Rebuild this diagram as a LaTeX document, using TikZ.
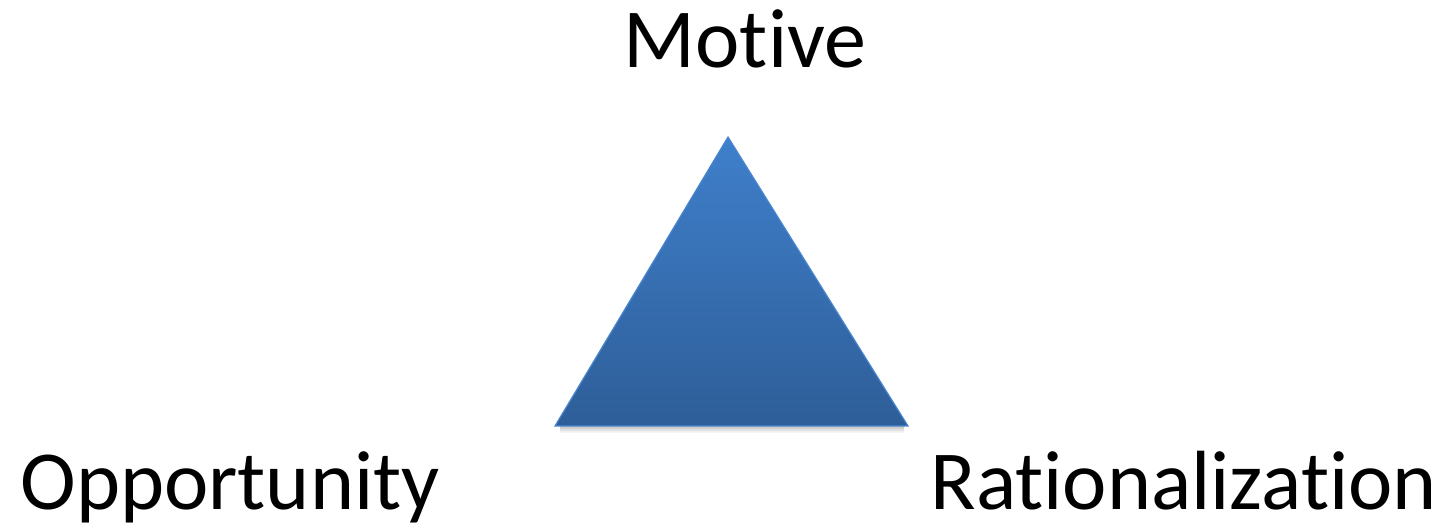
\documentclass[tikz,border=0pt]{standalone}
\usepackage{fontspec}
\setmainfont{Carlito}[Ligatures={NoCommon}]
\definecolor{tritop}{HTML}{3F7FCB}
\definecolor{tribot}{HTML}{2E5E98}
\definecolor{triedge}{HTML}{4A86CF}
\tikzset{
  lbl/.style={inner sep=0pt, font=\fontsize{42}{50}\selectfont, text=black},
}
\begin{document}
\begin{tikzpicture}[x=0.5pt,y=0.5pt]
\useasboundingbox (0,0) rectangle (1445,529);
\coordinate (apex) at (728,392);
\coordinate (bl) at (555,103);
\coordinate (br) at (908,103);
% soft shadow under the base
\shade[top color=black!30, bottom color=white, opacity=0.8] (560,96) rectangle (904,103);
\shade[top color=tritop, bottom color=tribot, draw=triedge, line width=0.6pt, line join=miter]
  (apex) -- (br) -- (bl) -- cycle;
\node[lbl, anchor=base] (motive) at (745,461) {Motive};
\node[lbl, anchor=base west] (opp) at (20,19) {Opportunity};
\node[lbl, anchor=base west] (rat) at (930,19) {Rationalization};
\end{tikzpicture}
\end{document}
